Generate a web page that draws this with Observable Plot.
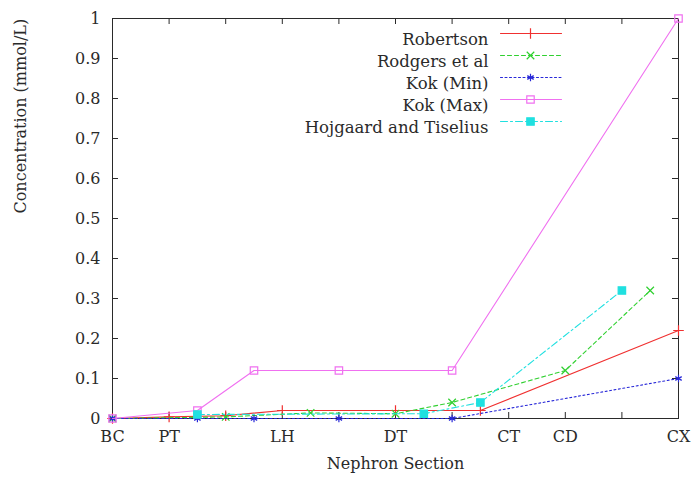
<!DOCTYPE html>
<html>
<head>
<meta charset="utf-8">
<script src="https://cdn.jsdelivr.net/npm/d3@7"></script>
<script src="https://cdn.jsdelivr.net/npm/@observablehq/plot@0.6"></script>
<style>
  html, body { margin: 0; padding: 0; background: #fff; }
  #chart { width: 691px; height: 487px; }
</style>
</head>
<body>
<div id="chart"></div>
<script>
// Category tick labels on the nephron-section axis
const sectionPos = [0, 1, 3, 5, 7, 8, 10];
const sectionLabels = ["BC", "PT", "LH", "DT", "CT", "CD", "CX"];
const yTicks = [0, 0.1, 0.2, 0.3, 0.4, 0.5, 0.6, 0.7, 0.8, 0.9, 1];

// Series (x = position along the nephron axis, y = concentration mmol/L)
const robertsonX = [0, 1, 2, 3, 5, 6.5, 10];
const robertsonY = [0, 0.004, 0.007, 0.02, 0.02, 0.02, 0.22];
const rodgersX = [0, 2, 3.5, 5, 6, 8, 9.5];
const rodgersY = [0, 0.004, 0.014, 0.012, 0.04, 0.12, 0.32];
const kokMinX = [0, 1.5, 2.5, 4, 6, 10];
const kokMinY = [0, 0, 0, 0, 0, 0.1];
const kokMaxX = [0, 1.5, 2.5, 4, 6, 10];
const kokMaxY = [0, 0.02, 0.12, 0.12, 0.12, 1.0];
const hojX = [1.5, 5.5, 6.5, 9];
const hojY = [0.01, 0.012, 0.04, 0.32];

const seriesNames = ["Robertson", "Rodgers et al", "Kok (Min)", "Kok (Max)", "Hojgaard and Tiselius"];

const styles = [
  {color: "#f03030", dash: null, symbol: "plus", fill: "none", r: 3.5},
  {color: "#30d030", dash: "4,3", symbol: "times", fill: "none", r: 3.5},
  {color: "#2828d8", dash: "2,2.5", symbol: "asterisk", fill: "none", r: 3.5},
  {color: "#f070f0", dash: null, symbol: "square", fill: "none", r: 4.2},
  {color: "#20e0e0", dash: "7,3,2,3", symbol: "square", fill: "#20e0e0", r: 4.2}
];
const xs = [robertsonX, rodgersX, kokMinX, kokMaxX, hojX];
const ys = [robertsonY, rodgersY, kokMinY, kokMaxY, hojY];
const series = xs.map((xv, i) => xv.map((x, j) => ({x, y: ys[i][j], s: seriesNames[i]})));

const W = 691, H = 487, ML = 112, MR = 13, MT = 18, MB = 69;
const fw = W - ML - MR, fh = H - MT - MB;
// legend helpers (pixel -> data space)
const px2x = p => (p - ML) / fw * 10;
const py2y = p => (H - MB - p) / fh;
const legendRowY = i => 33 + i * 22;

const ink = "#2a2a2a";
const font = "'DejaVu Serif', serif";

const marks = [];
marks.push(Plot.frame({stroke: ink, strokeWidth: 1}));
const xTickAll = d3.range(0, 11);
const tx = 6 / fw * 10, ty = 6 / fh;
marks.push(Plot.ruleX(xTickAll, {x: d => d, y1: 0, y2: ty, stroke: ink}));
marks.push(Plot.ruleX(xTickAll, {x: d => d, y1: 1 - ty, y2: 1, stroke: ink}));
marks.push(Plot.ruleY(yTicks, {y: d => d, x1: 0, x2: tx, stroke: ink}));
marks.push(Plot.ruleY(yTicks, {y: d => d, x1: 10 - tx, x2: 10, stroke: ink}));
marks.push(Plot.axisX(sectionPos, {
  tickSize: 0, tickPadding: 12, fontSize: 16, fill: ink,
  tickFormat: d => sectionLabels[sectionPos.indexOf(d)], label: null
}));
marks.push(Plot.axisY(yTicks, {
  tickSize: 0, tickPadding: 12, fontSize: 16, fill: ink,
  tickFormat: d => String(+d.toFixed(1)), label: null
}));
marks.push(Plot.text(["Concentration (mmol/L)"], {
  frameAnchor: "left", dx: -92, dy: -5, rotate: -90, text: d => d,
  fontSize: 16, fill: ink
}));
marks.push(Plot.text(["Nephron Section"], {
  frameAnchor: "bottom", dy: 50, text: d => d, fontSize: 16, fill: ink
}));

series.forEach((data, i) => {
  const st = styles[i];
  marks.push(Plot.line(data, {x: "x", y: "y", stroke: st.color, strokeWidth: 1.1,
    strokeDasharray: st.dash || undefined}));
  marks.push(Plot.dot(data, {x: "x", y: "y", symbol: () => st.symbol, r: st.r,
    stroke: st.color, fill: st.fill, strokeWidth: 1.2}));
});

seriesNames.forEach((name, i) => {
  const st = styles[i];
  const yy = py2y(legendRowY(i));
  marks.push(Plot.text([name], {
    frameAnchor: "top-left", dx: 488 - ML, dy: legendRowY(i) - MT,
    textAnchor: "end", text: d => d, fontSize: 16.5, fill: ink
  }));
  marks.push(Plot.line([{x: px2x(500), y: yy}, {x: px2x(561), y: yy}], {
    x: "x", y: "y", stroke: st.color, strokeWidth: 1.1, strokeDasharray: st.dash || undefined
  }));
  marks.push(Plot.dot([{x: px2x(530), y: yy}], {
    x: "x", y: "y", symbol: () => st.symbol, r: st.r, stroke: st.color, fill: st.fill, strokeWidth: 1.2
  }));
});

const chart = Plot.plot({
  width: W, height: H,
  marginLeft: ML, marginRight: MR, marginTop: MT, marginBottom: MB,
  style: {fontFamily: font, background: "#fff"},
  x: {domain: [0, 10], axis: null},
  y: {domain: [0, 1], axis: null},
  symbol: {type: "identity"},
  marks
});
document.getElementById("chart").appendChild(chart);
</script>
</body>
</html>
